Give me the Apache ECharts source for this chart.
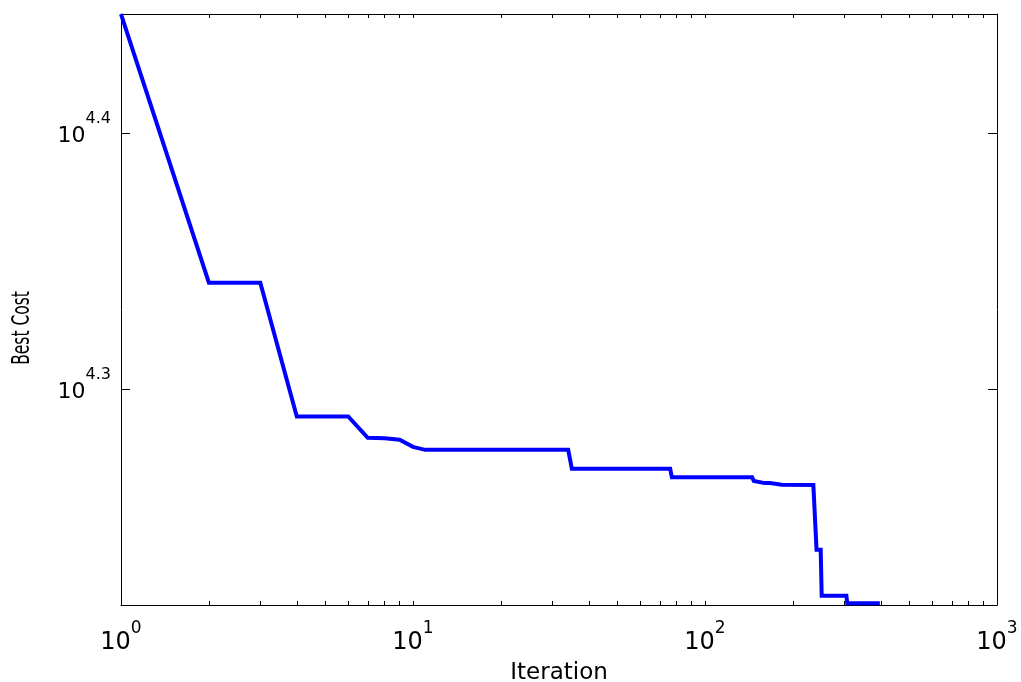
<!DOCTYPE html>
<html>
<head>
<meta charset="utf-8">
<script src="https://cdn.jsdelivr.net/npm/echarts@6/dist/echarts.min.js"></script>
<style>
  html, body { margin: 0; padding: 0; background: #fff; }
  #chart { width: 1021px; height: 682px; }
</style>
</head>
<body>
<div id="chart"></div>
<script>
// best cost per iteration (only the points where the curve changes)
var iterations = [1, 2, 3, 4, 6, 7, 8, 9, 10, 11, 34, 35, 76, 77, 145, 147, 160, 167, 183, 235, 241, 249, 251, 305, 307, 397];
var bestCost = [27957, 21954, 21954, 19462, 19462, 19093, 19084, 19059, 18938, 18887, 18887, 18567, 18567, 18426, 18426, 18365, 18330, 18330, 18302, 18298, 17262, 17262, 16563, 16563, 16451, 16451];

// axes
var xTicks = [1, 10, 100, 1000];
var xMinorTicks = [1, 2, 3, 4, 5, 6, 7, 8, 9, 10, 20, 30, 40, 50, 60, 70, 80, 90, 100, 200, 300, 400, 500, 600, 700, 800, 900, 1000];
var yTicks = [Math.pow(10, 4.3), Math.pow(10, 4.4)];
var xRange = [1, 1000];
var yRange = [16425, 27960];

var font = 'DejaVu Sans, sans-serif';

// "10" with the exponent as superscript
function powLabel(v) {
  var e = Math.log10(v);
  var s = Math.abs(e - Math.round(e)) < 1e-6 ? String(Math.round(e)) : e.toFixed(1);
  return '{b|10}{s|' + s + '}';
}

var seriesData = iterations.map(function (it, i) { return [it, bestCost[i]]; });

var chart = echarts.init(document.getElementById('chart'));

var lineStyle = { color: '#000', width: 1 };

chart.setOption({
  animation: false,
  backgroundColor: '#fff',
  grid: { left: 121, right: 24, top: 14, bottom: 77, outerBoundsMode: 'none' },
  // y title: the rotated text in the original is squeezed along its length
  graphic: [{
    type: 'text',
    x: 22.5,
    y: 328,
    rotation: Math.PI / 2,
    scaleY: 1.6,
    style: {
      text: 'Best Cost',
      fontFamily: font,
      fontSize: 15.5,
      fill: '#000',
      align: 'center',
      verticalAlign: 'middle',
      textAlign: 'center',
      textVerticalAlign: 'middle'
    }
  }],
  xAxis: [{
    type: 'log',
    logBase: 10,
    min: xRange[0],
    max: xRange[1],
    position: 'bottom',
    name: 'Iteration',
    nameLocation: 'middle',
    nameGap: 53,
    nameTextStyle: { fontFamily: font, fontSize: 23, color: '#000' },
    axisLine: { lineStyle: lineStyle },
    axisTick: { inside: true, length: 4, customValues: xMinorTicks, lineStyle: lineStyle },
    splitLine: { show: false },
    axisLabel: {
      customValues: xTicks,
      margin: 15,
      formatter: powLabel,
      rich: {
        b: { fontFamily: font, fontSize: 24, color: '#000', verticalAlign: 'bottom', lineHeight: 37, padding: [0, 0, 2, 0] },
        s: { fontFamily: font, fontSize: 17, color: '#000', verticalAlign: 'top', lineHeight: 37 }
      }
    }
  }, {
    type: 'log',
    logBase: 10,
    min: xRange[0],
    max: xRange[1],
    position: 'top',
    axisLine: { lineStyle: lineStyle },
    axisTick: { inside: true, length: 4, customValues: xMinorTicks, lineStyle: lineStyle },
    splitLine: { show: false },
    axisLabel: { show: false }
  }],
  yAxis: [{
    type: 'log',
    logBase: 10,
    min: yRange[0],
    max: yRange[1],
    position: 'left',
    axisLine: { lineStyle: lineStyle },
    axisTick: { inside: true, length: 9, customValues: yTicks, lineStyle: lineStyle },
    splitLine: { show: false },
    axisLabel: {
      customValues: yTicks,
      margin: 10,
      formatter: powLabel,
      rich: {
        b: { fontFamily: font, fontSize: 22, color: '#000', verticalAlign: 'bottom', lineHeight: 44, padding: [0, 0, 8, 0] },
        s: { fontFamily: font, fontSize: 16, color: '#000', verticalAlign: 'top', lineHeight: 44 }
      }
    }
  }, {
    type: 'log',
    logBase: 10,
    min: yRange[0],
    max: yRange[1],
    position: 'right',
    axisLine: { lineStyle: lineStyle },
    axisTick: { inside: true, length: 9, customValues: yTicks, lineStyle: lineStyle },
    splitLine: { show: false },
    axisLabel: { show: false }
  }],
  series: [{
    type: 'line',
    xAxisIndex: 0,
    yAxisIndex: 0,
    data: seriesData,
    showSymbol: false,
    symbol: 'none',
    lineStyle: { color: '#0000ff', width: 4, join: 'miter' },
    clip: false
  }]
});
</script>
</body>
</html>
